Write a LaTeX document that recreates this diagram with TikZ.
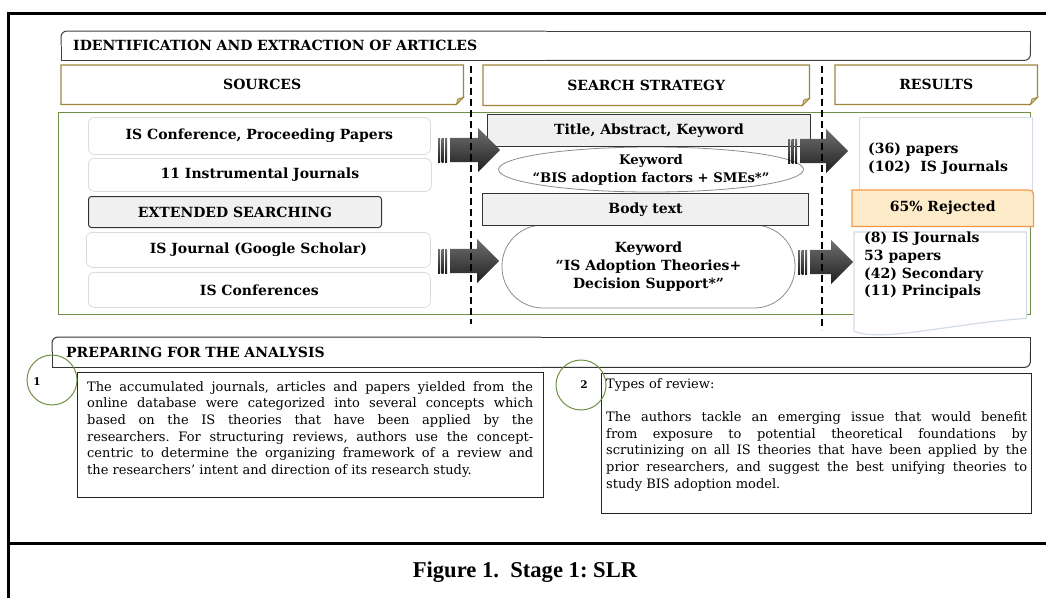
\documentclass[tikz,border=0pt]{standalone}
\usepackage{fontspec}
\setmainfont{DejaVu Serif}
\newfontfamily\capfont{Liberation Serif}
\usetikzlibrary{shapes.arrows,shapes.geometric,calc}
\frenchspacing
\definecolor{goldbd}{HTML}{A0843A}
\definecolor{goldfold}{HTML}{D8C48A}
\definecolor{olivegreen}{HTML}{6F8F45}
\definecolor{lightbd}{HTML}{DCDCDC}
\definecolor{boxgray}{HTML}{F0F0F0}
\definecolor{peach}{HTML}{FDEBC9}
\definecolor{orangebd}{HTML}{F79646}
\definecolor{bluegray}{HTML}{D3DCE6}
\definecolor{arrowtop}{HTML}{707070}
\definecolor{arrowbot}{HTML}{1E1E1E}
\newcommand\rdcbox[2][]{%
  \draw[#1,rounded corners=6pt] (#2.west) -- (#2.north west) -- (#2.north);
  \draw[#1] (#2.north) -- (#2.north east) -- (#2.east);
  \draw[#1,rounded corners=6pt] (#2.east) -- (#2.south east) -- (#2.south);
  \draw[#1] (#2.south) -- (#2.south west) -- (#2.west);}
\newcommand\foldbox[1]{%
  \draw[goldbd, line width=1.2pt] (#1.north west) -- (#1.north east) -- ($(#1.south east)+(0,-7)$) -- ($(#1.south east)+(-7,0)$) -- (#1.south west) -- cycle;
  \filldraw[fill=goldfold, draw=goldbd, line width=0.8pt] ($(#1.south east)+(-7,0)$) -- ($(#1.south east)+(-5.5,-5.5)$) -- ($(#1.south east)+(0,-7)$) -- cycle;}
\newcommand\stripearrow[4]{% name, tail x, y, tip x
  \pgfmathsetmacro\shaftx{#2+12}
  \pgfmathsetmacro\arrlen{#4-#2-12}
  \node[bigarrow, anchor=tail, minimum height=\arrlen pt] (#1) at (\shaftx,#3) {};
  \foreach \s in {0,3.5,7}{
    \fill[top color=arrowtop, bottom color=arrowbot] ($(#1.tail)+(-12+\s,-12)$) rectangle ($(#1.tail)+(-9.8+\s,12)$);}}
\tikzset{
  lbl/.style={font=\fontsize{14}{17.7}\selectfont\bfseries},
  srcbox/.style={draw=lightbd, line width=0.8pt, rounded corners=6pt, inner sep=0pt, anchor=north west, fill=white, lbl},
  graybox/.style={draw=black!80, fill=boxgray, line width=1pt, inner sep=0pt, anchor=north west, lbl},
  hdrbox/.style={inner sep=0pt, anchor=north west, lbl},
  bigarrow/.style={single arrow, inner xsep=0pt, inner ysep=12pt, text height=0pt, text depth=0pt, single arrow head extend=10pt, top color=arrowtop, bottom color=arrowbot, draw=none},
  sepline/.style={black, line width=2pt, dash pattern=on 7pt off 4pt},
  textbox/.style={draw=black!85, line width=1.1pt, inner sep=0pt, anchor=north west},
  body/.style={font=\fontsize{13}{16.7}\selectfont, align=justify, inner sep=0pt, anchor=north west},
  numcircle/.style={circle, draw=olivegreen, line width=1pt, minimum size=50pt, inner sep=0pt},
  numtxt/.style={font=\fontsize{10.5}{12}\selectfont\bfseries, inner sep=0pt},
  frameline/.style={black, line width=3pt},
  kwshape/.style={draw=black!45, fill=white, line width=0.8pt, inner sep=0pt},
  kwtext/.style={align=center, inner sep=0pt, lbl},
}
\begin{document}
\begin{tikzpicture}[x=1pt,y=-1pt]
\useasboundingbox (0,0) rectangle (1046,598);
% frame
\coordinate (ftl) at (8,13);
\coordinate (ftr) at (1046,13);
\coordinate (fbl) at (8,598);
\coordinate (fml) at (8,543);
\coordinate (fmr) at (1046,543);
\draw[frameline] (ftr) -- (ftl) -- (fbl);
\draw[frameline] (fml) -- (fmr);

% header
\node[hdrbox, minimum width=969pt, minimum height=29pt, text width=945pt, align=left] (title) at (61,31) {IDENTIFICATION AND EXTRACTION OF ARTICLES};
\rdcbox[draw=black!75, line width=1pt]{title}
\node[hdrbox, minimum width=402pt, minimum height=39pt] (sources) at (61,65) {SOURCES};
\foldbox{sources}
\node[hdrbox, minimum width=326pt, minimum height=40pt] (strategy) at (483,65) {SEARCH STRATEGY};
\foldbox{strategy}
\node[hdrbox, minimum width=202pt, minimum height=39pt] (results) at (835,65) {RESULTS};
\foldbox{results}

% green frame
\node[draw=olivegreen, line width=1.2pt, minimum width=972pt, minimum height=202pt, anchor=north west, inner sep=0pt] (green) at (58,112) {};

% sources
\node[srcbox, minimum width=342pt, minimum height=37pt] (src1) at (88,117) {IS Conference, Proceeding Papers};
\node[srcbox, minimum width=343pt, minimum height=33pt] (src2) at (88,158) {11 Instrumental Journals};
\node[graybox, rounded corners=3pt, minimum width=293pt, minimum height=31pt] (ext) at (88,196) {EXTENDED SEARCHING};
\node[srcbox, minimum width=344pt, minimum height=35pt] (src3) at (86,232) {IS Journal (Google Scholar)};
\node[srcbox, minimum width=342pt, minimum height=35pt] (src4) at (88,272) {IS Conferences};

% search strategy
\node[kwshape, ellipse, minimum width=305pt, minimum height=45pt] (kw1) at (651,169.5) {};
\node[kwtext, font=\fontsize{13.2}{18}\selectfont\bfseries] (kw1txt) at (kw1.center) {Keyword\\“BIS adoption factors + SMEs*”};
\node[kwshape, rounded corners=41pt, minimum width=293pt, minimum height=83pt] (kw2) at (648.5,266.5) {};
\node[kwtext] (kw2txt) at (kw2.center) {Keyword\\“IS Adoption Theories+\\Decision Support*”};
\node[graybox, minimum width=323pt, minimum height=32pt] (tak) at (487,114) {Title, Abstract, Keyword};
\node[graybox, minimum width=326pt, minimum height=32pt] (bodytext) at (482,193) {Body text};

% results
\node[draw=bluegray, fill=white, line width=1.2pt, minimum width=173pt, minimum height=80pt, anchor=north west, inner sep=0pt] (res1) at (859,117) {};
\node[lbl, align=left, anchor=north west, inner sep=0pt] (res1txt) at (868,143) {(36) papers\\(102)\ \ IS Journals};
\node[minimum width=172pt, minimum height=86pt, anchor=north west, inner sep=0pt] (res2) at (854,232) {};
\filldraw[draw=bluegray, fill=white, line width=1.2pt] ($(res2.south west)+(0,13)$) -- (res2.north west) -- (res2.north east) -- (res2.south east) .. controls ($(res2.south east)+(-75,5)$) and ($(res2.south west)+(30,24)$) .. ($(res2.south west)+(0,13)$);
\node[lbl, align=left, anchor=north west, inner sep=0pt] (res2txt) at (864,232) {(8) IS Journals\\53 papers\\(42) Secondary\\(11) Principals};
\node[minimum width=181pt, minimum height=36pt, anchor=north west, inner sep=0pt, lbl] (rej) at (852,190) {};
\filldraw[fill=peach, draw=orangebd, line width=1.2pt] (rej.south west) -- (rej.north west) -- ($(rej.north east)+(-9,0)$) .. controls (rej.north east) .. ($(rej.north east)+(0,9)$) -- (rej.south east) -- cycle;
\node[lbl, inner sep=0pt] (rejtxt) at (rej.center) {65\% Rejected};

% arrows
\stripearrow{a1}{438}{150}{500}
\stripearrow{a2}{438}{261}{499}
\stripearrow{a3}{788}{151}{848}
\stripearrow{a4}{798}{262}{853}

% separators
\coordinate (d1t) at (471,66);
\coordinate (d1b) at (471,324);
\coordinate (d2t) at (822,66);
\coordinate (d2b) at (822,330);
\draw[sepline] (d1t) -- (d1b);
\draw[sepline] (d2t) -- (d2b);

% preparing
\node[hdrbox, minimum width=978pt, minimum height=30pt, text width=950pt, align=left] (prep) at (52,337) {PREPARING FOR THE ANALYSIS};
\rdcbox[draw=black!80, line width=1pt]{prep}
\node[textbox, minimum width=466pt, minimum height=125pt] (box1) at (77,372) {};
\node[body, text width=446pt] (box1txt) at (87,381) {The accumulated journals, articles and papers yielded from the\linebreak online database were categorized into several concepts which\linebreak based on the IS theories that have been applied by the\linebreak researchers. For structuring reviews, authors use the concept-\linebreak centric to determine the organizing framework of a review and\linebreak the researchers’ intent and direction of its research study.};
\node[textbox, minimum width=430pt, minimum height=140pt] (box2) at (601,373) {};
\node[body, text width=421pt] (box2txt) at (606,378) {Types of review:\\[16.7pt]The authors tackle an emerging issue that would benefit\linebreak from exposure to potential theoretical foundations by\linebreak scrutinizing on all IS theories that have been applied by the\linebreak prior researchers, and suggest the best unifying theories to\linebreak study BIS adoption model.};
\node[numcircle] (c1) at (52,380) {};
\node[numtxt] (n1) at (37,382) {1};
\node[numcircle] (c2) at (581,385) {};
\node[numtxt] (n2) at (584,385) {2};

% caption
\node[font=\capfont\bfseries\fontsize{22.6}{26}\selectfont, inner sep=0pt] (cap) at (525,572) {Figure 1.\ \ Stage 1: SLR};
\end{tikzpicture}
\end{document}
